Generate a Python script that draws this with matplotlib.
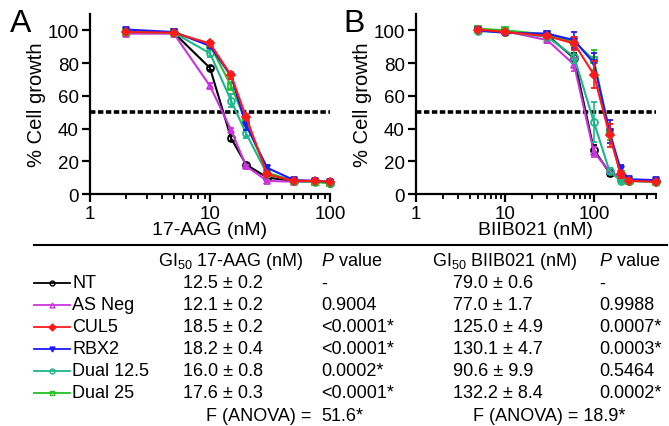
import matplotlib
matplotlib.use("Agg")
import matplotlib.pyplot as plt
from matplotlib.lines import Line2D
from matplotlib.ticker import LogLocator, NullFormatter, FixedLocator, FixedFormatter
import numpy as np

plt.rcParams['font.family'] = ['Liberation Sans', 'DejaVu Sans']
plt.rcParams['mathtext.fontset'] = 'custom'
plt.rcParams['mathtext.rm'] = 'Liberation Sans'
plt.rcParams['mathtext.it'] = 'Liberation Sans:italic'

# ---------------- data ----------------
series = ["NT", "AS Neg", "CUL5", "RBX2", "Dual 12.5", "Dual 25"]

dose_a = [2, 5, 10, 15, 20, 30, 50, 75, 100]   # 17-AAG (nM)
nt_a    = [99.0, 98.5, 77.0, 34.0, 18.0, 10.0, 8.0, 8.0, 7.0]
asneg_a = [98.0, 98.0, 66.0, 39.0, 17.0, 8.0, 7.5, 7.5, 7.0]
cul5_a  = [99.0, 98.5, 92.0, 72.5, 47.0, 12.0, 8.0, 8.0, 7.5]
rbx2_a  = [100.5, 99.0, 90.5, 72.0, 42.0, 16.0, 8.5, 8.0, 7.5]
d125_a  = [99.0, 98.5, 86.0, 57.0, 37.0, 12.0, 8.0, 7.5, 7.0]
d25_a   = [99.0, 99.0, 91.0, 66.0, 44.0, 13.0, 8.0, 7.5, 6.5]
err_nt_a    = [0.5, 0.5, 1.5, 1.5, 1.0, 0.5, 0.5, 0.5, 0.5]
err_asneg_a = [0.5, 0.5, 2.0, 1.5, 1.0, 0.5, 0.5, 0.5, 0.5]
err_cul5_a  = [0.5, 0.5, 1.5, 2.0, 2.0, 1.0, 0.5, 0.5, 0.5]
err_rbx2_a  = [0.5, 0.5, 1.5, 2.0, 3.0, 1.5, 0.5, 0.5, 0.5]
err_d125_a  = [0.5, 0.5, 2.0, 4.0, 2.5, 1.0, 0.5, 0.5, 0.5]
err_d25_a   = [0.5, 0.5, 1.5, 2.5, 2.0, 1.0, 0.5, 0.5, 0.5]

dose_b = [5, 10, 30, 60, 100, 150, 200, 250, 500]   # BIIB021 (nM)
nt_b    = [100.0, 99.0, 97.0, 83.0, 27.0, 13.0, 10.0, 8.0, 8.0]
asneg_b = [100.0, 99.5, 94.0, 79.0, 25.5, 14.0, 10.0, 8.0, 8.0]
cul5_b  = [100.5, 99.0, 96.5, 92.0, 73.0, 36.0, 12.0, 8.0, 7.5]
rbx2_b  = [100.0, 98.5, 98.0, 94.0, 80.0, 38.0, 15.0, 9.0, 8.5]
d125_b  = [99.5, 99.0, 96.0, 84.0, 44.0, 14.0, 8.0, 8.0, 7.5]
d25_b   = [101.0, 100.0, 97.5, 93.0, 82.0, 38.0, 12.0, 8.0, 7.5]
err_nt_b    = [0.5, 1.0, 1.0, 3.0, 3.0, 2.0, 1.0, 0.5, 0.5]
err_asneg_b = [0.5, 1.0, 2.0, 4.0, 3.0, 2.0, 1.0, 0.5, 0.5]
err_cul5_b  = [0.5, 1.0, 1.0, 4.0, 8.0, 7.0, 2.0, 0.5, 0.5]
err_rbx2_b  = [0.5, 1.5, 1.0, 5.0, 6.0, 7.0, 3.0, 1.0, 0.5]
err_d125_b  = [0.5, 1.0, 1.0, 4.0, 12.0, 2.0, 1.0, 0.5, 0.5]
err_d25_b   = [0.5, 1.0, 1.0, 3.0, 6.0, 5.0, 2.0, 0.5, 0.5]

gi50_aag   = ["12.5 ± 0.2", "12.1 ± 0.2", "18.5 ± 0.2", "18.2 ± 0.4", "16.0 ± 0.8", "17.6 ± 0.3"]
p_aag      = ["-", "0.9004", "<0.0001*", "<0.0001*", "0.0002*", "<0.0001*"]
gi50_biib  = ["79.0 ± 0.6", "77.0 ± 1.7", "125.0 ± 4.9", "130.1 ± 4.7", "90.6 ± 9.9", "132.2 ± 8.4"]
p_biib     = ["-", "0.9988", "0.0007*", "0.0003*", "0.5464", "0.0002*"]
anova_aag  = "51.6*"
anova_biib = "18.9*"

# ---------------- styles ----------------
colors  = ["#000000", "#CC33DD", "#FF1A1A", "#1A1AFF", "#1DB58A", "#22C022"]
markers = ["o", "^", "D", "v", "o", "s"]
fills   = ["none", "none", "full", "full", "none", "none"]
msizes  = [5, 5, 4, 5, 5, 5]
zorder  = [3, 4, 8, 7, 5, 6]

vals_a = [nt_a, asneg_a, cul5_a, rbx2_a, d125_a, d25_a]
errs_a = [err_nt_a, err_asneg_a, err_cul5_a, err_rbx2_a, err_d125_a, err_d25_a]
vals_b = [nt_b, asneg_b, cul5_b, rbx2_b, d125_b, d25_b]
errs_b = [err_nt_b, err_asneg_b, err_cul5_b, err_rbx2_b, err_d125_b, err_d25_b]

W, H = 669, 427
fig = plt.figure(figsize=(W / 100, H / 100), dpi=100)

def fx(px):
    return px / W

def fy(py):
    return 1 - py / H

axA = fig.add_axes([fx(90), fy(195), fx(330) - fx(90), fy(15) - fy(195)])
axB = fig.add_axes([fx(416), fy(195), fx(656) - fx(416), fy(15) - fy(195)])

def draw(ax, dose, vals, errs, xmax, xlabel):
    for i in range(len(series)):
        ax.errorbar(dose, vals[i], yerr=errs[i], color=colors[i], lw=1.5,
                    marker=markers[i], ms=msizes[i], mew=1.3,
                    mfc=("none" if fills[i] == "none" else colors[i]),
                    mec=colors[i], capsize=2.5, elinewidth=1.2, capthick=1.2,
                    zorder=zorder[i], clip_on=False)
    ax.axhline(50, color="black", lw=2.6, ls=(0, (1.5, 0.7)), zorder=2)
    ax.set_xscale("log")
    ax.set_xlim(1, xmax)
    ax.set_ylim(0, 110)
    ax.set_yticks([0, 20, 40, 60, 80, 100])
    ax.xaxis.set_major_locator(FixedLocator([1, 10, 100]))
    ax.xaxis.set_major_formatter(FixedFormatter(["1", "10", "100"]))
    ax.xaxis.set_minor_locator(LogLocator(base=10, subs=np.arange(2, 10)))
    ax.xaxis.set_minor_formatter(NullFormatter())
    for s in ["top", "right"]:
        ax.spines[s].set_visible(False)
    for s in ["left", "bottom"]:
        ax.spines[s].set_linewidth(1.6)
    ax.tick_params(axis="both", which="major", direction="out", length=6,
                   width=1.6, labelsize=13.5, pad=2)
    ax.tick_params(axis="x", which="minor", direction="out", length=3.5, width=1.3)
    ax.set_ylabel("% Cell growth", fontsize=14.5, labelpad=1)
    ax.set_xlabel(xlabel, fontsize=14, labelpad=-1)

draw(axA, dose_a, vals_a, errs_a, 100, "17-AAG (nM)")
draw(axB, dose_b, vals_b, errs_b, 500, "BIIB021 (nM)")

fig.text(fx(10), fy(24), "A", fontsize=23, va="center", ha="left")
fig.text(fx(343), fy(24), "B", fontsize=23, va="center", ha="left")

# ---------------- table ----------------
tfs = 13
fig.add_artist(Line2D([fx(34), fx(667)], [fy(246), fy(246)], color="black", lw=1.5,
                      transform=fig.transFigure))
yh = 261
fig.text(fx(158), fy(yh), r"GI$_{\mathregular{50}}$ 17-AAG (nM)", fontsize=tfs, va="center")
fig.text(fx(321), fy(yh), r"$P$ value", fontsize=tfs, va="center")
fig.text(fx(432), fy(yh), r"GI$_{\mathregular{50}}$ BIIB021 (nM)", fontsize=tfs, va="center")
fig.text(fx(599), fy(yh), r"$P$ value", fontsize=tfs, va="center")

row_y = [284, 306, 328, 350, 372, 394]
for i, name in enumerate(series):
    y = fy(row_y[i])
    fig.add_artist(Line2D([fx(34), fx(70)], [y, y], color=colors[i], lw=1.3,
                          transform=fig.transFigure))
    fig.add_artist(Line2D([fx(52)], [y], color=colors[i], marker=markers[i], ms=3.5,
                          mew=1.0, mfc=("none" if fills[i] == "none" else colors[i]),
                          mec=colors[i], transform=fig.transFigure))
    fig.text(fx(72), y, name, fontsize=tfs, va="center")
    fig.text(fx(183), y, gi50_aag[i], fontsize=tfs, va="center")
    fig.text(fx(321), y, p_aag[i], fontsize=tfs, va="center")
    fig.text(fx(453), y, gi50_biib[i], fontsize=tfs, va="center")
    fig.text(fx(599), y, p_biib[i], fontsize=tfs, va="center")

yf = fy(417)
fig.text(fx(311), yf, "F (ANOVA) =", fontsize=tfs, va="center", ha="right")
fig.text(fx(321), yf, anova_aag, fontsize=tfs, va="center")
fig.text(fx(473), yf, "F (ANOVA) = " + anova_biib, fontsize=tfs, va="center")

fig.savefig("out.png", dpi=100)
